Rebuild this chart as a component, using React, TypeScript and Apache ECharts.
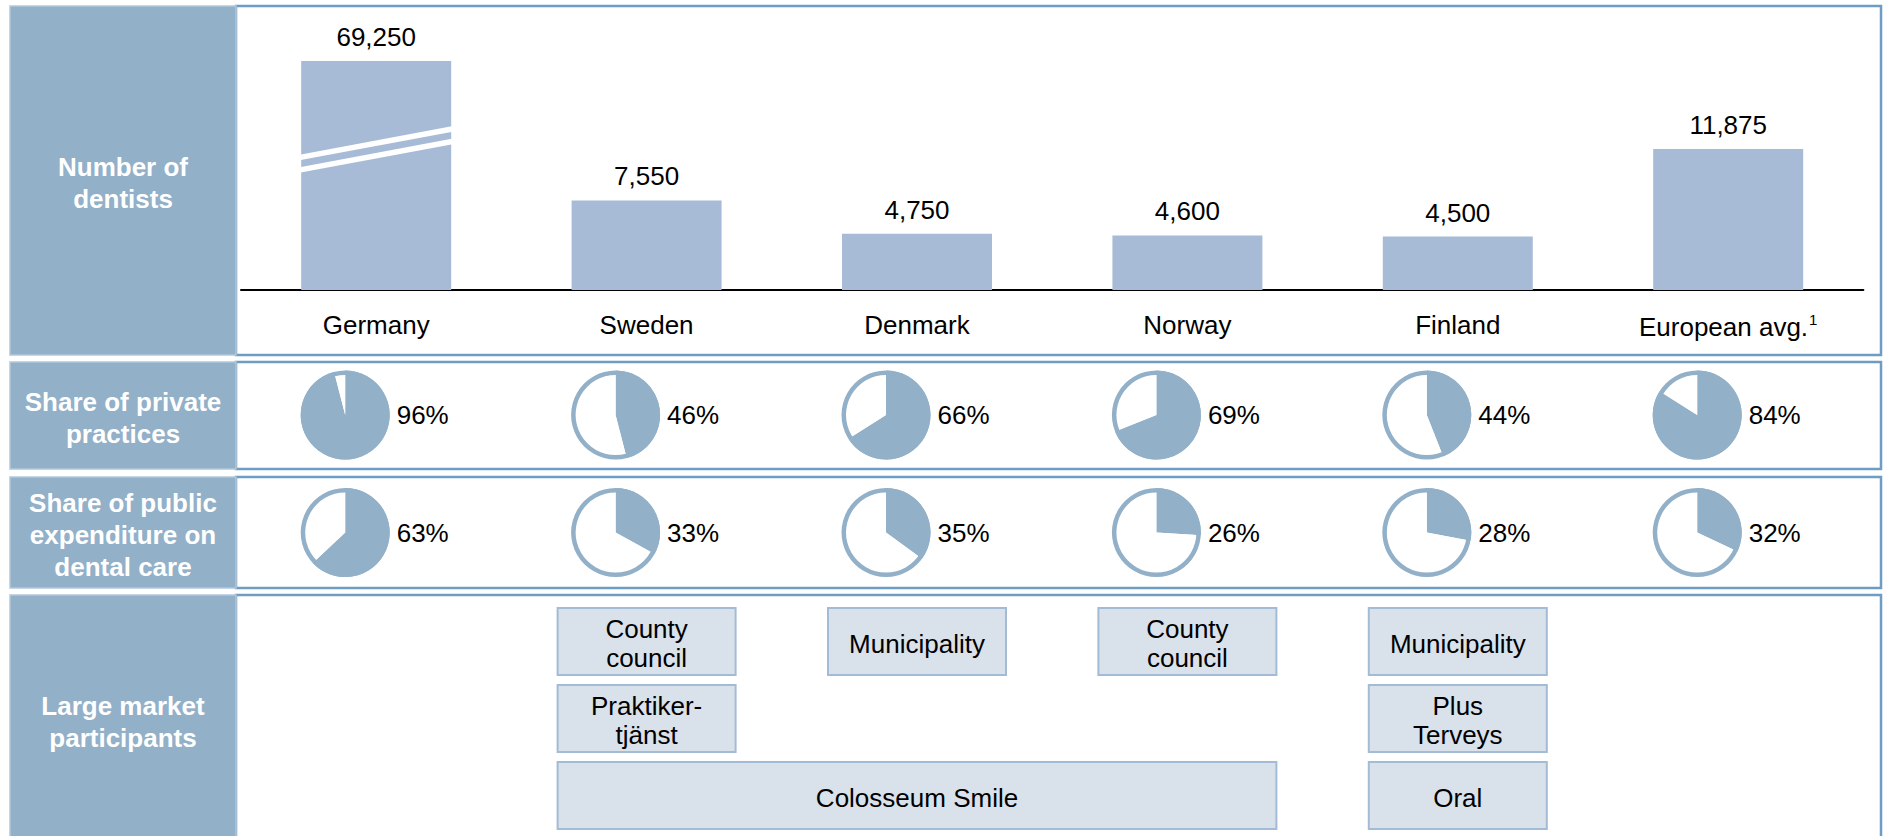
import React, { useEffect, useRef } from 'react';
import * as echarts from 'echarts';

// ---------------- data ----------------
const countries = ['Germany', 'Sweden', 'Denmark', 'Norway', 'Finland', 'European avg.'];
const dentists = [69250, 7550, 4750, 4600, 4500, 11875];
const privateShare = [96, 46, 66, 69, 44, 84];
const publicShare = [63, 33, 35, 26, 28, 32];
const rowHeaders = [
  'Number of\ndentists',
  'Share of private\npractices',
  'Share of public\nexpenditure on\ndental care',
  'Large market\nparticipants',
];
const participantNames = ['County\ncouncil', 'Praktiker-\ntjänst', 'Colosseum Smile', 'Municipality', 'County\ncouncil', 'Municipality', 'Plus\nTerveys', 'Oral'];
const participantFirstCol = [1, 1, 1, 2, 3, 4, 4, 4];
const participantLastCol = [1, 1, 3, 2, 3, 4, 4, 4];
const participantRow = [0, 1, 2, 0, 0, 0, 1, 2];
const footnoteMark = '1';
const yAxisMax = 19300; // visible part of the scale; the Germany bar is broken
const breakValue = 11850;

// ---------------- layout / style ----------------
const W = 1885;
const H = 836;
const FONT = '"Liberation Sans", Arial, Helvetica, sans-serif';
const HEADER_FILL = '#92b0c8';
const HEADER_EDGE = '#b3c7da';
const PANEL_BORDER = '#6e9cc3';
const BAR_COLOR = '#a8bbd6';
const PIE_COLOR = '#92b0c8';
const BOX_FILL = '#d9e1eb';
const BOX_BORDER = '#a3bbd4';
const panels = [
  { top: 6, bottom: 355 },
  { top: 362, bottom: 469 },
  { top: 477, bottom: 588 },
  { top: 595, bottom: 845 },
];
const HEADER_LEFT = 10;
const HEADER_RIGHT = 236;
const CONTENT_RIGHT = 1881;
const GRID_LEFT = 241;
const BAND = 270.4;
const GRID_TOP = 61;
const BASELINE = 290;
const PIE_R = 44.5;
const PIE_SHIFT = -31;
const BOX_W = 178;
const BOX_TOPS = [608, 685, 762];
const BOX_H = 67;

export default function App() {
  const ref = useRef<HTMLDivElement>(null);
  useEffect(() => {
    document.body.style.margin = '0';
    const chart = echarts.init(ref.current!, null, { renderer: 'svg', width: W, height: H });
    const colCenter = (i: number) => GRID_LEFT + (i + 0.5) * BAND;

    const graphics: any[] = [];
    panels.forEach((p, i) => {
      graphics.push({
        type: 'rect', z: 0, silent: true,
        shape: { x: HEADER_RIGHT, y: p.top, width: CONTENT_RIGHT - HEADER_RIGHT, height: p.bottom - p.top },
        style: { fill: '#fff', stroke: PANEL_BORDER, lineWidth: 2.5 },
      });
      graphics.push({
        type: 'rect', z: 1, silent: true,
        shape: { x: HEADER_LEFT, y: p.top, width: HEADER_RIGHT - HEADER_LEFT, height: p.bottom - p.top },
        style: { fill: HEADER_FILL, stroke: HEADER_EDGE, lineWidth: 1.5 },
      });
      graphics.push({
        type: 'text', z: 2, silent: true,
        x: (HEADER_LEFT + HEADER_RIGHT) / 2,
        y: (p.top + p.bottom) / 2 + 2,
        style: {
          text: rowHeaders[i], fill: '#fff', fontSize: 26, fontWeight: 'bold', fontFamily: FONT,
          lineHeight: 32, align: 'center', verticalAlign: 'middle', textAlign: 'center', textVerticalAlign: 'middle',
        },
      });
    });

    const pieSeries: any[] = [];
    const pieRows = [privateShare, publicShare];
    pieRows.forEach((vals, r) => {
      const p = panels[r + 1];
      const cy = (p.top + p.bottom) / 2 + (r === 0 ? -0.5 : 0);
      vals.forEach((v, i) => {
        const cx = colCenter(i) + PIE_SHIFT;
        pieSeries.push({
          type: 'pie', silent: true, center: [cx, cy], radius: [0, PIE_R], startAngle: 90, clockwise: true,
          label: { show: false }, labelLine: { show: false }, emphasis: { disabled: true },
          itemStyle: { borderWidth: 0 },
          data: [
            { value: v, itemStyle: { color: PIE_COLOR } },
            { value: 100 - v, itemStyle: { color: '#fff' } },
          ],
        });
        pieSeries.push({
          type: 'pie', silent: true, center: [cx, cy], radius: [PIE_R - 4.5, PIE_R],
          label: { show: false }, labelLine: { show: false }, emphasis: { disabled: true },
          itemStyle: { borderWidth: 0, color: PIE_COLOR },
          data: [{ value: 1 }],
        });
        graphics.push({
          type: 'text', z: 5, silent: true, x: cx + PIE_R + 7, y: cy,
          style: {
            text: v + '%', fill: '#000', fontSize: 26, fontFamily: FONT,
            align: 'left', verticalAlign: 'middle', textAlign: 'left', textVerticalAlign: 'middle',
          },
        });
      });
    });

    participantNames.forEach((name, k) => {
      const x0 = colCenter(participantFirstCol[k]) - BOX_W / 2;
      const x1 = colCenter(participantLastCol[k]) + BOX_W / 2;
      const y0 = BOX_TOPS[participantRow[k]];
      graphics.push({
        type: 'rect', z: 3, silent: true,
        shape: { x: x0, y: y0, width: x1 - x0, height: BOX_H },
        style: { fill: BOX_FILL, stroke: BOX_BORDER, lineWidth: 2 },
      });
      graphics.push({
        type: 'text', z: 4, silent: true, x: (x0 + x1) / 2, y: y0 + BOX_H / 2 + 2,
        style: {
          text: name, fill: '#000', fontSize: 26, fontFamily: FONT, lineHeight: 29,
          align: 'center', verticalAlign: 'middle', textAlign: 'center', textVerticalAlign: 'middle',
        },
      });
    });

    const option: any = {
      animation: false,
      grid: { left: GRID_LEFT, top: GRID_TOP, width: BAND * countries.length, height: BASELINE - GRID_TOP },
      xAxis: {
        type: 'category', data: countries,
        axisLine: { show: true, lineStyle: { color: '#000', width: 2 } },
        axisTick: { show: false },
        axisLabel: {
          interval: 0, margin: 22, fontSize: 26, color: '#000', fontFamily: FONT,
          formatter: (v: string) => (v === 'European avg.' ? v + '{sup|' + footnoteMark + '}' : v),
          rich: { sup: { fontSize: 15, fontFamily: FONT, color: '#000', verticalAlign: 'top', lineHeight: 30, padding: [0, 0, 12, 1] } },
        },
      },
      yAxis: { type: 'value', min: 0, max: yAxisMax, show: false, splitLine: { show: false } },
      series: [
        {
          type: 'bar', data: dentists, barWidth: 150, clip: true, silent: true, z: 3,
          itemStyle: { color: BAR_COLOR },
          label: {
            show: true, position: 'top', distance: 11, fontSize: 26, color: '#000', fontFamily: FONT,
            formatter: (p: any) => Number(p.value).toLocaleString('en-US'),
          },
        },
        ...pieSeries,
      ],
      graphic: graphics,
    };
    chart.setOption(option);

    // axis-break marks on the Germany bar
    const pt = chart.convertToPixel({ seriesIndex: 0 }, [0, breakValue]) as number[];
    const slope = 0.187;
    const half = 80;
    const breakLines = [-6.25, 6.25].map((off) => ({
      type: 'line', z: 20, silent: true,
      shape: { x1: pt[0] - half, y1: pt[1] + off + slope * half, x2: pt[0] + half, y2: pt[1] + off - slope * half },
      style: { stroke: '#fff', lineWidth: 5.5 },
    }));
    chart.setOption({ graphic: [...graphics, ...breakLines] });

    return () => chart.dispose();
  }, []);
  return <div ref={ref} style={{ width: W, height: H, overflow: 'hidden' }} />;
}
